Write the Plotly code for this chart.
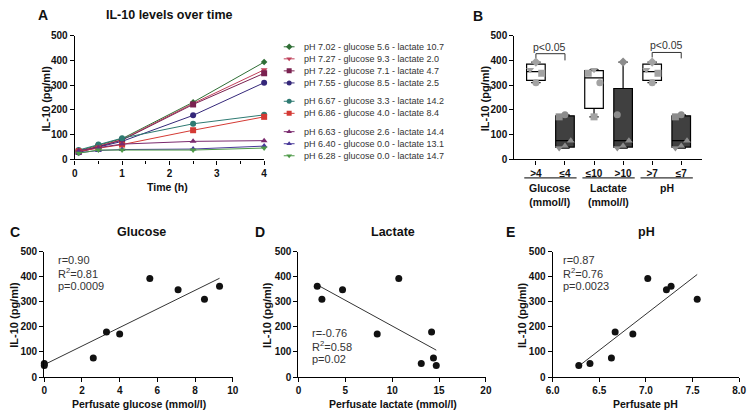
import numpy as np
import plotly.graph_objects as go

W, H = 754, 417
FONT = "Liberation Sans, Arial, sans-serif"

# ---- data -----------------------------------------------------------------
# perfusate composition of each kidney (legend order of panel A)
ph = [7.02, 7.27, 7.22, 7.55, 6.67, 6.86, 6.63, 6.40, 6.28]
glucose = [5.6, 9.3, 7.1, 8.5, 3.3, 4.0, 2.6, 0.0, 0.0]
lactate = [10.7, 2.0, 4.7, 2.5, 14.2, 8.4, 14.4, 13.1, 14.7]
legend_block = [0, 0, 0, 0, 1, 1, 2, 2, 2]

times = [0.083, 0.5, 1, 2.5, 4]
il10_series = [
    [35, 58, 84, 231, 393],
    [32, 55, 80, 226, 362],
    [30, 52, 78, 222, 348],
    [28, 50, 73, 178, 310],
    [38, 60, 86, 144, 180],
    [33, 44, 60, 118, 172],
    [36, 48, 62, 73, 76],
    [27, 36, 40, 42, 54],
    [25, 38, 38, 38, 46],
]
il10_4h = [s[-1] for s in il10_series]

cat_labels = [">4", "≤4", "≤10", ">10", ">7", "≤7"]
group_names = ["Glucose<br>(mmol/l)", "Lactate<br>(mmol/l)", "pH"]
cat_masks = [
    [g > 4 for g in glucose], [g <= 4 for g in glucose],
    [v <= 10 for v in lactate], [v > 10 for v in lactate],
    [p > 7 for p in ph], [p <= 7 for p in ph],
]

r_text = ["0.90", "-0.76", "0.87"]
r2_text = ["0.81", "0.58", "0.76"]
p_text = ["0.0009", "0.02", "0.0023"]

COLORS = ["#2f6e35", "#c0405a", "#7a2150", "#35287a", "#2e7a72",
          "#d43a34", "#7a2a6e", "#4a3a9a", "#4e9a48"]
SYMBOLS = ["diamond", "triangle-down", "square", "circle", "circle",
           "square", "triangle-up", "triangle-up", "triangle-down"]


# ---- helpers --------------------------------------------------------------
def note(text, x, y, size=10.5, bold=True, xanchor="center", yanchor="middle",
         angle=0, color="#111"):
    return dict(text=text, x=x / W, y=1 - y / H, xref="paper", yref="paper",
                showarrow=False, xanchor=xanchor, yanchor=yanchor, textangle=angle,
                font=dict(family=FONT, size=size, color=color,
                          weight="bold" if bold else "normal"))


def dom_x(a, b):
    return [a / W, b / W]


def dom_y(top, bottom):
    return [1 - bottom / H, 1 - top / H]


AX = dict(showline=True, linecolor="black", linewidth=1.3, ticks="outside",
          ticklen=4, tickwidth=1.3, tickcolor="black", showgrid=False,
          zeroline=False, fixedrange=True,
          tickfont=dict(family=FONT, size=10, color="#111", weight="bold"))
YAX = dict(AX, range=[0, 500], dtick=100)

fig = go.Figure()
ann = []
shapes = []

# ---- panel A: time course -------------------------------------------------
for i, s in enumerate(il10_series):
    fig.add_trace(go.Scatter(x=times, y=s, mode="lines+markers", xaxis="x", yaxis="y",
                             line=dict(color=COLORS[i], width=1),
                             marker=dict(symbol=SYMBOLS[i], color=COLORS[i],
                                         size=5 if SYMBOLS[i] == "diamond" else 6),
                             cliponaxis=False, showlegend=False, hoverinfo="skip"))

# hand-drawn legend (plotly's rows are too tall for this spacing)
for i in range(len(ph)):
    ry = 42 + i * 12.4 + legend_block[i] * 6.5
    fig.add_trace(go.Scatter(x=[282, 293], y=[ry, ry], mode="lines", xaxis="x6", yaxis="y6",
                             line=dict(color=COLORS[i], width=1),
                             showlegend=False, hoverinfo="skip"))
    fig.add_trace(go.Scatter(x=[287.5], y=[ry], mode="markers", xaxis="x6", yaxis="y6",
                             marker=dict(symbol=SYMBOLS[i], color=COLORS[i], size=5),
                             showlegend=False, hoverinfo="skip"))
    label = f"pH {ph[i]:.2f} - glucose {glucose[i]:.1f} - lactate {lactate[i]:.1f}"
    ann.append(note(label, 301, ry, size=9, bold=False, xanchor="left", color="#333"))

# ---- panel B: box plots ---------------------------------------------------
for k, mask in enumerate(cat_masks):
    idx = [i for i, m in enumerate(mask) if m]
    vals = np.array([il10_4h[i] for i in idx], dtype=float)
    q1, med, q3 = np.percentile(vals, [25, 50, 75], method="weibull")
    dark = k % 2 == 1
    fig.add_trace(go.Box(x=[k], q1=[q1], median=[med], q3=[q3],
                         lowerfence=[vals.min()], upperfence=[vals.max()],
                         xaxis="x2", yaxis="y2", width=0.64, whiskerwidth=0.5,
                         fillcolor="#404040" if dark else "white",
                         line=dict(color="black", width=1.2), boxpoints=False,
                         showlegend=False, hoverinfo="skip"))
    order = sorted(idx, key=lambda i: -il10_4h[i])
    offs = [[0, -1, 1][j % 3] * 0.2 for j in range(len(order))]
    fig.add_trace(go.Scatter(x=[k + o for o in offs], y=[il10_4h[i] for i in order],
                             mode="markers", xaxis="x2", yaxis="y2",
                             marker=dict(symbol=[SYMBOLS[i] for i in order], size=7,
                                         color="#8c8c8c" if dark else "#a3a3a3"),
                             cliponaxis=False, showlegend=False, hoverinfo="skip"))

# significance brackets
shapes.append(dict(type="path", xref="x2", yref="y2", path="M 0,410 L 0,427 L 1,427 L 1,400",
                   line=dict(color="#333", width=1)))
shapes.append(dict(type="path", xref="x2", yref="y2", path="M 4,412 L 4,432 L 5,432 L 5,408",
                   line=dict(color="#333", width=1)))
for xc, yc in [(0.47, 456), (4.5, 464)]:
    ann.append(dict(text="p<0.05", x=xc, y=yc, xref="x2", yref="y2", showarrow=False,
                    font=dict(family=FONT, size=10.5, color="#333")))

# group underlines and labels
for g, name in enumerate(group_names):
    c = 2 * g + 0.5
    shapes.append(dict(type="line", xref="x2", yref="paper", x0=c - 0.9, x1=c + 0.9,
                       y0=1 - 177 / H, y1=1 - 177 / H, line=dict(color="black", width=1)))
    ann.append(dict(text=name, x=c, y=1 - 179 / H, xref="x2", yref="paper",
                    showarrow=False, yanchor="top",
                    font=dict(family=FONT, size=10.5, color="#111", weight="bold")))

# ---- panels C-E: correlations --------------------------------------------
scatter_x = [glucose, lactate, ph]
scatter_axes = [("x3", "y3"), ("x4", "y4"), ("x5", "y5")]
stat_pos = [(50, 262), (309, 337), (564, 262)]
for j, xs in enumerate(scatter_x):
    xa, ya = scatter_axes[j]
    xs = np.array(xs, dtype=float)
    ys = np.array(il10_4h, dtype=float)
    slope, icpt = np.polyfit(xs, ys, 1)
    xl = np.array([xs.min(), xs.max()])
    fig.add_trace(go.Scatter(x=xl, y=slope * xl + icpt, mode="lines", xaxis=xa, yaxis=ya,
                             line=dict(color="#333", width=1), showlegend=False,
                             hoverinfo="skip"))
    fig.add_trace(go.Scatter(x=xs, y=ys, mode="markers", xaxis=xa, yaxis=ya,
                             marker=dict(color="#111", size=7), cliponaxis=False,
                             showlegend=False, hoverinfo="skip"))
    sx, sy = stat_pos[j]
    for n, t in enumerate([f"r={r_text[j]}", f"R<sup>2</sup>={r2_text[j]}", f"p={p_text[j]}"]):
        ann.append(note(t, sx, sy + n * 13, size=11, bold=False, xanchor="left", color="#333"))

# ---- titles, axis titles, panel letters ----------------------------------
ylab = "IL-10 (pg/ml)"
ann += [
    note("A", 37, 9, size=14), note("B", 480, 10, size=14),
    note("C", 8, 233, size=14), note("D", 258, 233, size=14), note("E", 513, 233, size=14),
    note("IL-10 levels over time", 166, 9, size=12.5),
    note("Glucose", 137, 233, size=12.5), note("Lactate", 393, 233, size=12.5),
    note("pH", 652, 233, size=12.5),
    note("Time (h)", 164, 186),
    note("Perfusate glucose (mmol/l)", 134, 410),
    note("Perfusate lactate (mmol/l)", 393, 410),
    note("Perfusate pH", 651, 410),
    note(ylab, 40, 95, angle=-90, size=11), note(ylab, 487, 95, angle=-90, size=11),
    note(ylab, 7, 318, angle=-90, size=11), note(ylab, 265, 318, angle=-90, size=11),
    note(ylab, 525, 318, angle=-90, size=11),
]

top_row = dom_y(30.5, 158)
bot_row = dom_y(253, 382)
fig.update_layout(
    width=W, height=H, margin=dict(l=0, r=0, t=0, b=0),
    plot_bgcolor="rgba(0,0,0,0)", paper_bgcolor="white",
    font=dict(family=FONT, color="#111"),
    xaxis=dict(AX, domain=dom_x(69, 262), range=[0, 4], dtick=1, anchor="y",
               minor=dict(dtick=0.5, ticks="outside", ticklen=3, tickwidth=1.1,
                          tickcolor="black")),
    yaxis=dict(YAX, domain=top_row, anchor="x"),
    xaxis2=dict(AX, domain=dom_x(517, 708), range=[-0.74, 5.71], anchor="y2",
                tickmode="array", tickvals=list(range(6)), ticktext=cat_labels),
    yaxis2=dict(YAX, domain=top_row, anchor="x2"),
    xaxis3=dict(AX, domain=dom_x(38, 230), range=[0, 10], dtick=2, anchor="y3"),
    yaxis3=dict(YAX, domain=bot_row, anchor="x3"),
    xaxis4=dict(AX, domain=dom_x(297, 488), range=[0, 20], dtick=5, anchor="y4"),
    yaxis4=dict(YAX, domain=bot_row, anchor="x4"),
    xaxis5=dict(AX, domain=dom_x(556, 746), range=[6, 8], dtick=0.5, tickformat=".1f",
                anchor="y5"),
    yaxis5=dict(YAX, domain=bot_row, anchor="x5"),
    # pixel canvas for the legend glyphs, kept clear of the other panels
    xaxis6=dict(domain=dom_x(275, 300), range=[275, 300], visible=False, anchor="y6",
                fixedrange=True),
    yaxis6=dict(domain=dom_y(35, 160), range=[160, 35], visible=False, anchor="x6",
                fixedrange=True),
    annotations=ann, shapes=shapes,
)

# the page body keeps the browser's 8px margin otherwise, which shifts the figure
fig.write_html("out.html", config={"displayModeBar": False},
               post_script="document.body.style.margin = '0';")
